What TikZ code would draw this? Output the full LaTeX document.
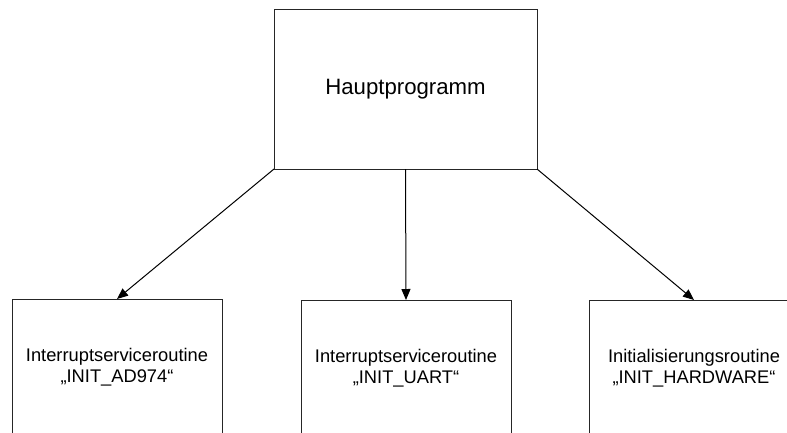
\documentclass[tikz,border=0pt]{standalone}
\usepackage{fontspec}
\setmainfont{Liberation Sans}
\usetikzlibrary{arrows.meta}
\begin{document}
\begin{tikzpicture}[x=1pt,y=-1pt,
  box/.style={draw=black!85,line width=1pt,outer sep=0pt,inner sep=0pt,align=center,fill=white},
  topbox/.style={box,minimum width=263pt,minimum height=160pt,font=\fontsize{22.2}{26}\selectfont},
  subbox/.style={box,minimum width=210pt,minimum height=136pt,font=\fontsize{18.3}{21.3}\selectfont},
  conn/.style={draw=black,line width=1pt,-{Triangle[length=11pt,width=9pt]}}]
\useasboundingbox (0,0) rectangle (787,432);
\clip (0,0) rectangle (787,432);
\node[topbox] (main) at (405.5,89) {Hauptprogramm};
\node[subbox] (ad) at (117,367) {Interruptserviceroutine\\„INIT\_AD974“};
\node[subbox] (uart) at (406,368) {Interruptserviceroutine\\„INIT\_UART“};
\node[subbox] (hw) at (694,368) {Initialisierungsroutine\\„INIT\_HARDWARE“};
\draw[conn] (main.south west) -- (ad.north);
\draw[conn] (main.south) -- (uart.north);
\draw[conn] (main.south east) -- (hw.north);
\end{tikzpicture}
\end{document}
